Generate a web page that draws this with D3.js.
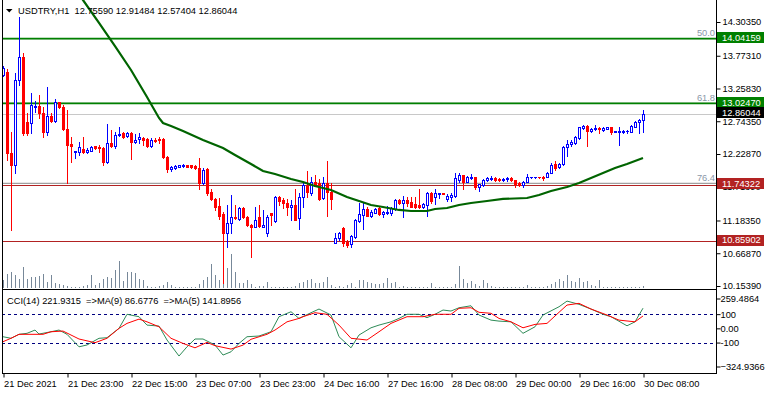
<!DOCTYPE html>
<html>
<head>
<meta charset="utf-8">
<script src="https://cdn.jsdelivr.net/npm/d3@7"></script>
<style>
	body { margin: 0; background: #fff; }
	svg { display: block; font-family: "Liberation Sans", Arial, sans-serif; font-size: 9.3px; }
</style>
</head>
<body>
<div id="chart"></div>
<script>
// USDTRY H1 — candles + MA, levels, volume, CCI MAs

const SYMBOL_TITLE = "USDTRY,H1  12.75590 12.91484 12.57404 12.86044";
const CCI_TITLE = "CCI(14) 221.9315  =>MA(9) 86.6776  =>MA(5) 141.8956";

// [open, high, low, close], one per H1 bar
const candles = [
	[13.470, 13.612, 13.455, 13.580], [13.518, 13.565, 12.134, 12.244], [12.244, 12.575, 11.034, 12.055],
	[12.055, 13.502, 11.930, 13.392], [13.392, 14.382, 13.313, 13.753], [13.753, 13.816, 12.527, 12.559],
	[12.732, 12.873, 12.527, 12.559], [12.716, 13.187, 12.559, 12.998], [12.967, 13.061, 12.889, 12.983],
	[12.983, 13.155, 12.794, 12.873], [12.873, 12.967, 12.496, 12.575], [12.575, 13.282, 12.527, 12.826],
	[12.826, 12.873, 12.732, 12.747], [12.747, 13.093, 12.732, 13.046], [13.046, 13.046, 12.951, 12.967],
	[12.967, 12.998, 12.606, 12.622], [12.622, 12.920, 11.773, 12.369], [12.385, 12.496, 12.103, 12.354],
	[12.260, 12.275, 12.165, 12.275], [12.260, 12.417, 12.212, 12.338], [12.307, 12.496, 12.244, 12.260],
	[12.260, 12.322, 12.244, 12.291], [12.275, 12.354, 12.275, 12.338], [12.354, 12.354, 12.307, 12.322],
	[12.338, 12.369, 12.260, 12.322], [12.322, 12.338, 12.055, 12.103], [12.103, 12.700, 12.087, 12.401],
	[12.401, 12.606, 12.338, 12.354], [12.354, 12.575, 12.322, 12.527], [12.527, 12.653, 12.511, 12.543],
	[12.559, 12.575, 12.480, 12.496], [12.511, 12.575, 12.496, 12.559], [12.559, 12.575, 12.150, 12.417],
	[12.417, 12.543, 12.401, 12.448], [12.464, 12.559, 12.401, 12.496], [12.480, 12.496, 12.369, 12.448],
	[12.464, 12.480, 12.338, 12.354], [12.354, 12.480, 12.338, 12.448], [12.448, 12.480, 12.417, 12.433],
	[12.464, 12.496, 12.401, 12.448], [12.464, 12.480, 12.165, 12.181], [12.181, 12.197, 11.946, 11.993],
	[11.993, 12.040, 11.962, 12.024], [12.009, 12.055, 11.993, 12.040], [12.032, 12.055, 12.024, 12.048],
	[12.040, 12.071, 12.024, 12.055], [12.048, 12.055, 12.024, 12.032], [12.048, 12.055, 12.009, 12.024],
	[12.040, 12.055, 11.993, 12.009], [12.009, 12.165, 11.678, 11.773], [11.773, 12.009, 11.757, 11.977],
	[11.993, 12.009, 11.584, 11.616], [11.631, 11.678, 11.505, 11.521], [11.521, 11.537, 11.348, 11.396],
	[11.411, 11.537, 11.207, 11.254], [11.285, 11.317, 10.201, 10.987], [10.987, 11.427, 10.767, 11.144],
	[11.144, 11.584, 10.987, 11.238], [11.238, 11.427, 11.207, 11.222], [11.207, 11.396, 11.191, 11.380],
	[11.380, 11.396, 11.222, 11.238], [11.238, 11.254, 11.097, 11.113], [11.113, 11.128, 10.610, 11.081],
	[11.081, 11.396, 11.081, 11.191], [11.238, 11.427, 11.081, 11.097], [11.081, 11.348, 11.081, 11.113],
	[10.987, 11.270, 10.940, 11.238], [11.301, 11.301, 11.113, 11.270], [11.175, 11.568, 11.160, 11.553],
	[11.553, 11.568, 11.427, 11.490], [11.505, 11.537, 11.380, 11.458], [11.458, 11.521, 11.270, 11.396],
	[11.396, 11.505, 11.191, 11.427], [11.427, 11.678, 11.191, 11.191], [11.222, 11.616, 11.050, 11.553],
	[11.553, 11.773, 11.396, 11.741], [11.726, 11.962, 11.553, 11.631], [11.616, 11.867, 11.584, 11.789],
	[11.789, 11.899, 11.726, 11.726], [11.773, 11.836, 11.505, 11.521], [11.537, 11.867, 11.521, 11.773],
	[11.773, 12.118, 11.254, 11.631], [11.631, 11.773, 11.364, 11.521], [10.829, 10.987, 10.829, 10.908],
	[10.908, 11.003, 10.877, 10.987], [11.066, 11.081, 10.782, 10.829], [10.845, 10.877, 10.767, 10.798],
	[10.814, 10.955, 10.767, 10.940], [10.924, 11.207, 10.908, 11.191], [11.175, 11.458, 11.160, 11.285],
	[11.270, 11.458, 11.050, 11.364], [11.364, 11.396, 11.254, 11.254], [11.254, 11.348, 11.238, 11.317],
	[11.301, 11.380, 11.301, 11.364], [11.380, 11.396, 11.270, 11.285], [11.285, 11.333, 11.238, 11.317],
	[11.301, 11.411, 11.285, 11.317], [11.301, 11.396, 11.270, 11.380], [11.364, 11.521, 11.348, 11.505],
	[11.505, 11.521, 11.442, 11.458], [11.458, 11.568, 11.238, 11.505], [11.505, 11.553, 11.411, 11.458],
	[11.474, 11.553, 11.396, 11.396], [11.442, 11.553, 11.380, 11.396], [11.427, 11.678, 11.380, 11.396],
	[11.396, 11.458, 11.380, 11.442], [11.427, 11.631, 11.254, 11.616], [11.616, 11.631, 11.458, 11.490],
	[11.553, 11.678, 11.442, 11.616], [11.600, 11.616, 11.537, 11.616], [11.616, 11.616, 11.600, 11.600],
	[11.521, 11.600, 11.490, 11.568], [11.553, 11.616, 11.490, 11.584], [11.568, 11.930, 11.553, 11.851],
	[11.820, 11.930, 11.789, 11.899], [11.899, 11.899, 11.678, 11.789], [11.789, 11.883, 11.789, 11.867],
	[11.851, 11.914, 11.836, 11.867], [11.867, 11.867, 11.678, 11.710], [11.710, 11.757, 11.647, 11.757],
	[11.741, 11.836, 11.726, 11.820], [11.820, 11.867, 11.804, 11.851], [11.836, 11.883, 11.820, 11.851],
	[11.851, 11.867, 11.804, 11.820], [11.836, 11.851, 11.804, 11.820], [11.820, 11.851, 11.804, 11.836],
	[11.836, 11.867, 11.804, 11.851], [11.851, 11.867, 11.804, 11.820], [11.820, 11.820, 11.710, 11.757],
	[11.773, 11.789, 11.726, 11.741], [11.741, 11.804, 11.710, 11.789], [11.789, 11.914, 11.789, 11.867],
	[11.860, 11.875, 11.851, 11.867], [11.860, 11.875, 11.851, 11.867], [11.867, 11.875, 11.851, 11.860],
	[11.867, 11.883, 11.820, 11.851], [11.867, 11.946, 11.860, 11.930], [11.930, 12.087, 11.930, 12.055],
	[12.071, 12.118, 11.977, 12.009], [12.024, 12.087, 12.009, 12.071], [12.071, 12.354, 12.055, 12.338],
	[12.338, 12.448, 12.197, 12.385], [12.385, 12.448, 12.354, 12.417], [12.401, 12.511, 12.385, 12.496],
	[12.480, 12.653, 12.464, 12.653], [12.637, 12.685, 12.622, 12.669], [12.669, 12.685, 12.354, 12.590],
	[12.590, 12.637, 12.575, 12.622], [12.622, 12.685, 12.606, 12.637], [12.637, 12.653, 12.559, 12.622],
	[12.606, 12.653, 12.590, 12.637], [12.622, 12.653, 12.622, 12.653], [12.653, 12.653, 12.543, 12.575],
	[12.575, 12.590, 12.575, 12.583], [12.575, 12.653, 12.369, 12.583], [12.575, 12.606, 12.559, 12.590],
	[12.583, 12.606, 12.559, 12.598], [12.575, 12.685, 12.575, 12.669], [12.653, 12.747, 12.653, 12.732],
	[12.732, 12.778, 12.559, 12.763], [12.7559, 12.91484, 12.57404, 12.86044]
];

// tick volume, hundreds of ticks
const volumes = [
	8, 14, 16, 13, 9, 21, 9, 11, 11, 12, 14, 6, 13, 5, 4, 3, 2, 1, 1, 1,
	2, 3, 13, 3, 5, 9, 11, 10, 18, 27, 7, 16, 16, 15, 9, 8, 2, 1, 1, 2,
	3, 6, 3, 1, 1, 1, 1, 1, 1, 4, 8, 11, 24, 13, 8, 6, 20, 34, 16, 5,
	5, 8, 4, 1, 2, 2, 6, 1, 1, 1, 1, 1, 1, 2, 5, 6, 8, 9, 5, 5,
	6, 11, 3, 1, 2, 1, 3, 5, 1, 8, 8, 6, 5, 4, 4, 5, 10, 5, 6, 1,
	2, 1, 1, 1, 1, 1, 1, 5, 1, 1, 1, 1, 1, 4, 22, 9, 5, 7, 4, 2,
	8, 5, 2, 1, 1, 1, 1, 1, 1, 1, 1, 3, 1, 1, 1, 1, 2, 4, 6, 9,
	7, 13, 7, 6, 10, 6, 7, 3, 2, 8, 1, 1, 1, 1, 1, 1, 1, 1, 1, 1, 2
];

// moving average on price: [bar, value]
const maPoints = [
	[17, 14.917], [20, 14.649], [24, 14.288], [28, 13.926], [32, 13.549], [36, 13.125], [39, 12.795],
	[40, 12.716], [42, 12.669], [45, 12.590], [50, 12.449], [55, 12.323], [58, 12.213], [62, 12.072],
	[65, 11.962], [68, 11.914], [72, 11.836], [75, 11.789], [78, 11.726], [82, 11.663], [86, 11.553],
	[89, 11.490], [92, 11.427], [95, 11.396], [99, 11.349], [102, 11.333], [106, 11.333], [108, 11.364],
	[111, 11.380], [114, 11.427], [117, 11.459], [121, 11.490], [125, 11.522], [131, 11.537], [134, 11.584],
	[137, 11.647], [141, 11.710], [144, 11.773], [147, 11.852], [150, 11.930], [153, 12.009], [156, 12.072],
	[160, 12.166]
];

// CCI(14) smoothed: MA(5) green, MA(9) red — [bar, value]
const cciMa5 = [
	[0, -59], [2, -70], [4, -42], [6, -35], [8, -12], [9, -40], [12, -24], [14, -12], [16, -42], [19, -130],
	[21, -117], [24, -70], [26, -66], [29, 0], [31, 99], [34, 82], [36, 23], [39, 16], [41, -82], [44, -195],
	[46, -130], [48, -75], [50, -75], [53, -117], [55, -188], [57, -165], [59, -106], [61, -59], [64, -54],
	[67, -24], [69, 82], [72, 117], [74, 70], [77, 110], [79, 136], [82, 94], [84, -59], [87, -137], [89, -47],
	[92, 4], [94, 23], [97, 46], [99, 70], [101, 99], [104, 99], [106, 75], [108, 99], [110, 129], [112, 122],
	[114, 145], [117, 159], [119, 94], [122, 58], [124, 51], [127, 46], [130, -35], [133, 11], [135, 94],
	[139, 152], [141, 192], [144, 169], [147, 136], [150, 99], [152, 82], [156, 18], [158, 46], [160, 142]
];
const cciMa9 = [
	[0, -94], [2, -70], [4, -42], [10, -42], [12, -24], [15, -19], [17, -47], [19, -75], [23, -101], [26, -70],
	[29, 0], [31, 35], [34, 65], [36, 46], [39, 11], [42, -70], [45, -106], [48, -137], [51, -99], [53, -122],
	[57, -146], [60, -118], [62, -77], [66, -42], [68, -12], [71, 46], [74, 70], [75, 82], [78, 110], [81, 99],
	[84, 23], [87, -70], [91, -82], [94, -24], [97, 35], [101, 82], [105, 82], [108, 99], [112, 99], [114, 141],
	[117, 145], [119, 113], [122, 106], [124, 70], [127, 46], [130, 4], [133, 28], [136, 35], [139, 113],
	[141, 164], [144, 176], [147, 136], [151, 94], [154, 58], [158, 46], [160, 87]
];
const cciLevels = [100, -100];
const cciTicks = [100, 0, -100];
const cciTickLabels = ["100", "0.00", "-100"];
const cciMax = 259.4864;
const cciMin = -324.9366;

const timeLabels = [
	"21 Dec 2021", "21 Dec 23:00", "22 Dec 15:00", "23 Dec 07:00", "23 Dec 23:00", "24 Dec 16:00",
	"27 Dec 16:00", "28 Dec 08:00", "29 Dec 00:00", "29 Dec 16:00", "30 Dec 08:00"
];
const BARS_PER_LABEL = 16;

const priceTicks = [14.3035, 13.7731, 13.2583, 12.7435, 12.2287, 11.7139, 11.1835, 10.6687, 10.1539];
const greenLevels = [14.04159, 13.0247];
const redLevels = [11.74322, 10.85902];
const fibLevels = [["50.0", 14.04159], ["61.8", 13.0247], ["76.4", 11.7665]];
const bidPrice = 12.86044;

// ---- layout
const W = 767, H = 394;
const LEFT = 2, AXIS_X = 716;
const MAIN_BOTTOM = 289, CCI_BOTTOM = 373;

const BULL = "#0000ff", BEAR = "#ff0000";
const GREEN = "#008000", RED = "#b22222";

const svg = d3.select("#chart").append("svg").attr("width", W).attr("height", H);
svg.append("rect").attr("width", W).attr("height", H).attr("fill", "#fff");

const defs = svg.append("defs");
defs.append("clipPath").attr("id", "mainClip")
	.append("rect").attr("x", LEFT + 1).attr("y", 0).attr("width", AXIS_X - LEFT - 1).attr("height", MAIN_BOTTOM);
defs.append("clipPath").attr("id", "cciClip")
	.append("rect").attr("x", LEFT + 1).attr("y", MAIN_BOTTOM + 1).attr("width", AXIS_X - LEFT - 1).attr("height", CCI_BOTTOM - MAIN_BOTTOM - 1);

const x = d3.scaleLinear().domain([0, 160]).range([3, 643]);
const y = d3.scaleLinear().domain([10.1539, 14.3035]).range([286, 22]);
const yVol = d3.scaleLinear().domain([0, 34]).range([288, 254]);
const yCci = d3.scaleLinear().domain([cciMin, cciMax]).range([374.5, 291.5]);

const col = i => Math.round(x(i));

// ---- main panel background objects
const main = svg.append("g").attr("clip-path", "url(#mainClip)");

main.selectAll("line.fib").data(fibLevels).join("line")
	.attr("class", "fib")
	.attr("x1", LEFT).attr("x2", AXIS_X)
	.attr("y1", d => y(d[1])).attr("y2", d => y(d[1]))
	.attr("stroke", "#a0a0a0").attr("stroke-width", 1.3);

main.selectAll("text.fib").data(fibLevels).join("text")
	.attr("class", "fib")
	.attr("x", AXIS_X - 1).attr("y", d => y(d[1]) - 2.5)
	.attr("text-anchor", "end")
	.attr("fill", "#8a97a8")
	.text(d => d[0]);

main.append("line")
	.attr("x1", LEFT).attr("x2", AXIS_X)
	.attr("y1", Math.round(y(bidPrice)) + 0.5).attr("y2", Math.round(y(bidPrice)) + 0.5)
	.attr("stroke", "#c8c8c8");

main.selectAll("line.green").data(greenLevels).join("line")
	.attr("class", "green")
	.attr("x1", LEFT).attr("x2", AXIS_X)
	.attr("y1", d => y(d)).attr("y2", d => y(d))
	.attr("stroke", GREEN).attr("stroke-width", 1.6);

main.selectAll("line.red").data(redLevels).join("line")
	.attr("class", "red")
	.attr("x1", LEFT).attr("x2", AXIS_X)
	.attr("y1", d => Math.round(y(d)) + 0.5).attr("y2", d => Math.round(y(d)) + 0.5)
	.attr("stroke", RED).attr("stroke-width", 1);

// volume
main.selectAll("line.vol").data(volumes).join("line")
	.attr("class", "vol")
	.attr("x1", (d, i) => col(i) + 0.5).attr("x2", (d, i) => col(i) + 0.5)
	.attr("y1", yVol(0)).attr("y2", d => Math.round(yVol(d)))
	.attr("stroke", "#778899");

// candles
const cg = main.selectAll("g.candle").data(candles).join("g").attr("class", "candle");

cg.append("line")
	.attr("x1", (d, i) => col(i) + 0.5).attr("x2", (d, i) => col(i) + 0.5)
	.attr("y1", d => Math.round(y(d[1]))).attr("y2", d => Math.round(y(d[2])) + 1)
	.attr("stroke", d => (d[3] >= d[0] ? BULL : BEAR));

cg.each(function (d, i) {
	const g = d3.select(this);
	const c = col(i);
	const up = d[3] >= d[0];
	const top = Math.round(y(Math.max(d[0], d[3])));
	const bot = Math.round(y(Math.min(d[0], d[3])));
	if (bot - top < 1) {
		g.append("line")
			.attr("x1", c - 1).attr("x2", c + 2)
			.attr("y1", top + 0.5).attr("y2", top + 0.5)
			.attr("stroke", up ? BULL : BEAR);
	} else if (up) {
		g.append("rect")
			.attr("x", c - 0.5).attr("y", top + 0.5)
			.attr("width", 2).attr("height", bot - top)
			.attr("fill", "#fff").attr("stroke", BULL);
	} else {
		g.append("rect")
			.attr("x", c - 1).attr("y", top)
			.attr("width", 3).attr("height", bot - top + 1)
			.attr("fill", BEAR);
	}
});

// moving average
main.append("path")
	.datum(maPoints)
	.attr("d", d3.line().x(d => x(d[0])).y(d => y(d[1])))
	.attr("fill", "none")
	.attr("stroke", "#006400")
	.attr("stroke-width", 2.2);

// ---- CCI panel
const cci = svg.append("g").attr("clip-path", "url(#cciClip)");

cci.selectAll("line.lvl").data(cciLevels).join("line")
	.attr("class", "lvl")
	.attr("x1", LEFT).attr("x2", AXIS_X)
	.attr("y1", d => Math.round(yCci(d)) + 0.5).attr("y2", d => Math.round(yCci(d)) + 0.5)
	.attr("stroke", "#000080").attr("stroke-dasharray", "3,3");

const cciLine = d3.line().x(d => x(d[0])).y(d => yCci(d[1]));
cci.append("path").datum(cciMa5).attr("d", cciLine)
	.attr("fill", "none").attr("stroke", "#2e8b57").attr("stroke-width", 1);
cci.append("path").datum(cciMa9).attr("d", cciLine)
	.attr("fill", "none").attr("stroke", "#ff0000").attr("stroke-width", 1);

// ---- frame
const frame = svg.append("g").attr("stroke", "#000").attr("shape-rendering", "crispEdges");
frame.append("line").attr("x1", LEFT + 0.5).attr("x2", LEFT + 0.5).attr("y1", 0).attr("y2", CCI_BOTTOM + 1);
frame.append("line").attr("x1", AXIS_X + 0.5).attr("x2", AXIS_X + 0.5).attr("y1", 0).attr("y2", CCI_BOTTOM + 1);
frame.append("line").attr("x1", LEFT).attr("x2", AXIS_X).attr("y1", MAIN_BOTTOM + 0.5).attr("y2", MAIN_BOTTOM + 0.5);
frame.append("line").attr("x1", LEFT).attr("x2", AXIS_X).attr("y1", CCI_BOTTOM + 0.5).attr("y2", CCI_BOTTOM + 0.5);

// ---- axes
function styleAxis(g) {
	g.attr("font-size", null).attr("font-family", null);
	g.select(".domain").remove();
	g.selectAll("line").attr("stroke", "#000");
	g.selectAll("text").attr("fill", "#000");
}

svg.append("g")
	.attr("transform", `translate(${AXIS_X + 0.5},0)`)
	.call(d3.axisRight(y).tickValues(priceTicks).tickSize(4).tickPadding(2).tickFormat(d3.format(".5f")))
	.call(styleAxis);

svg.append("g")
	.attr("transform", `translate(${AXIS_X + 0.5},0)`)
	.call(d3.axisRight(yCci).tickValues(cciTicks).tickSize(4).tickPadding(0).tickFormat((d, i) => cciTickLabels[i]))
	.call(styleAxis);

// panel max / min labels sit inside the panel edges
const cciEdge = svg.append("g").attr("transform", `translate(${AXIS_X + 0.5},0)`);
[[cciMax, 299], [cciMin, 367]].forEach(([v, ty]) => {
	cciEdge.append("line").attr("x1", 0).attr("x2", 4).attr("y1", ty).attr("y2", ty).attr("stroke", "#000");
	cciEdge.append("text").attr("x", 4).attr("y", ty).attr("dy", "0.35em").text(d3.format(".4f")(v));
});

const timeAxis = svg.append("g")
	.attr("transform", `translate(0.5,${CCI_BOTTOM + 0.5})`)
	.call(d3.axisBottom(x)
		.tickValues(timeLabels.map((t, i) => i * BARS_PER_LABEL))
		.tickSize(4).tickPadding(3)
		.tickFormat((d, i) => timeLabels[i]))
	.call(styleAxis);
timeAxis.selectAll("text").attr("text-anchor", "start");

// ---- price boxes on the axis
function priceBox(v, fill) {
	const cy = y(v) - 1;
	svg.append("rect")
		.attr("x", AXIS_X + 1).attr("y", Math.round(cy - 5.5))
		.attr("width", 47).attr("height", 11)
		.attr("fill", fill);
	svg.append("text")
		.attr("x", AXIS_X + 6).attr("y", cy).attr("dy", "0.35em")
		.attr("fill", "#fff")
		.text(d3.format(".5f")(v));
}
greenLevels.forEach(v => priceBox(v, GREEN));
redLevels.forEach(v => priceBox(v, RED));
priceBox(bidPrice, "#000");

// ---- titles
svg.append("path").attr("d", "M6,9L12.5,9L9.25,12.5Z").attr("fill", "#000");
svg.append("text").attr("x", 18).attr("y", 14).style("white-space", "pre").text(SYMBOL_TITLE);
svg.append("text").attr("x", 7).attr("y", 303.5).style("white-space", "pre").text(CCI_TITLE);
</script>
</body>
</html>
